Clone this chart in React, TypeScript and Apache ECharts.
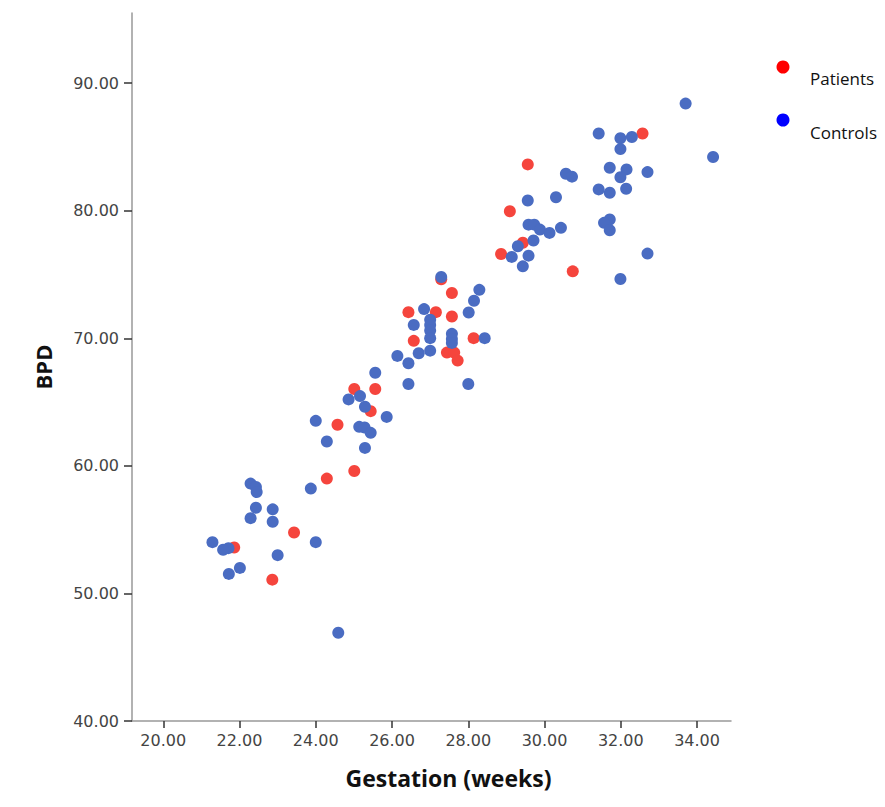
import React, { useEffect, useRef } from "react";
import * as echarts from "echarts";

const xTicks = [20, 22, 24, 26, 28, 30, 32, 34];
const yTicks = [40, 50, 60, 70, 80, 90];

const patientsGestation = [
  21.86, 22.86, 23.43, 24.29, 25.01, 24.57, 25.44, 25.01, 25.56, 26.43, 27.15, 27.57, 27.57,
  27.29, 26.57, 28.14, 27.44, 27.63, 27.72, 28.86, 29.43, 29.09, 29.56, 30.74, 32.57,
];
const patientsBPD = [
  53.6, 51.08, 54.78, 59.0, 59.6, 63.22, 64.29, 66.02, 66.02, 72.05, 72.05, 71.71, 73.55,
  74.63, 69.8, 70.01, 68.88, 68.88, 68.25, 76.61, 77.49, 79.96, 83.63, 75.25, 86.05,
];

const controlsGestation = [
  22.43, 22.87, 22.29, 22.87, 24.0, 21.29, 21.71, 21.57, 23.0, 22.01, 21.72, 25.56, 26.43,
  24.86, 25.16, 25.29, 24.0, 25.86, 25.14, 25.28, 25.44, 24.29, 25.29, 23.87, 22.29, 22.43,
  22.45, 24.59, 27.29, 28.29, 28.15, 26.84, 28.01, 26.57, 27.0, 27.0, 27.0, 27.0, 27.57,
  27.57, 27.57, 28.43, 26.14, 26.7, 27.0, 26.43, 28.0, 30.56, 30.72, 29.56, 30.3, 29.58,
  29.73, 29.88, 30.13, 30.43, 29.71, 29.3, 29.14, 29.58, 29.43, 33.7, 31.42, 31.99, 32.29,
  31.99, 34.42, 31.71, 32.15, 31.99, 32.7, 31.42, 31.71, 32.14, 31.71, 31.56, 31.71, 32.7,
  31.99,
];
const controlsBPD = [
  56.72, 56.59, 55.9, 55.62, 54.02, 54.02, 53.55, 53.42, 53.0, 52.0, 51.53, 67.3, 66.42,
  65.21, 65.47, 64.63, 63.53, 63.84, 63.06, 63.01, 62.59, 61.91, 61.41, 58.22, 58.61, 58.34,
  57.95, 46.92, 74.8, 73.8, 72.94, 72.29, 72.02, 71.05, 71.45, 71.05, 70.61, 70.01, 70.35,
  69.95, 69.64, 70.01, 68.62, 68.83, 69.03, 68.04, 66.42, 82.9, 82.67, 80.8, 81.06, 78.91,
  78.91, 78.52, 78.26, 78.66, 77.67, 77.21, 76.38, 76.48, 75.64, 88.4, 86.05, 85.68, 85.78,
  84.83, 84.21, 83.37, 83.24, 82.63, 83.03, 81.67, 81.41, 81.72, 79.31, 79.05, 78.47, 76.64,
  74.65,
];

const seriesNames = ["Patients", "Controls"];
const pointColors = ["#F5453D", "#4A6CC2"];
const legendColors = ["#FF0000", "#0000FF"];

const pairs = (xs: number[], ys: number[]) => xs.map((x, i) => [x, ys[i]]);

export default function App() {
  const ref = useRef<HTMLDivElement>(null);

  useEffect(() => {
    if (!ref.current) return;
    const chart = echarts.init(ref.current, undefined, { renderer: "svg" });
    const labelStyle = {
      color: "#444",
      fontFamily: "DejaVu Sans",
      fontSize: 16,
    };
    chart.setOption({
      animation: false,
      backgroundColor: "#fff",
      grid: { left: 132, right: 154, top: 13, bottom: 86, containLabel: false },
      xAxis: {
        type: "value",
        min: 19.18,
        max: 34.89,
        name: "Gestation (weeks)",
        nameLocation: "middle",
        nameGap: 45,
        nameTextStyle: {
          fontFamily: "Open Sans",
          fontWeight: "bold",
          fontSize: 23,
          color: "#111",
          padding: [0, 0, 0, 34],
        },
        axisLine: { show: true, lineStyle: { color: "#999", width: 1.5 } },
        axisTick: {
          show: true,
          inside: false,
          length: 7,
          customValues: xTicks,
          lineStyle: { color: "#333", width: 1.5 },
        },
        axisLabel: {
          ...labelStyle,
          margin: 11,
          customValues: xTicks,
          formatter: (v: number) => v.toFixed(2),
        },
        splitLine: { show: false },
      },
      yAxis: {
        type: "value",
        min: 40,
        max: 95.5,
        name: "BPD",
        nameLocation: "middle",
        nameGap: 78,
        nameTextStyle: {
          fontFamily: "Open Sans",
          fontWeight: "bold",
          fontSize: 22,
          color: "#111",
        },
        axisLine: { show: true, lineStyle: { color: "#999", width: 1.5 } },
        axisTick: {
          show: true,
          inside: false,
          length: 8,
          customValues: yTicks,
          lineStyle: { color: "#333", width: 1.5 },
        },
        axisLabel: {
          ...labelStyle,
          margin: 13,
          customValues: yTicks,
          formatter: (v: number) => v.toFixed(2),
        },
        splitLine: { show: false },
      },
      series: [
        {
          name: seriesNames[0],
          type: "scatter",
          symbol: "circle",
          symbolSize: 12,
          itemStyle: { color: pointColors[0], opacity: 1 },
          data: pairs(patientsGestation, patientsBPD),
          z: 2,
        },
        {
          name: seriesNames[1],
          type: "scatter",
          symbol: "circle",
          symbolSize: 12,
          itemStyle: { color: pointColors[1], opacity: 1 },
          data: pairs(controlsGestation, controlsBPD),
          z: 3,
        },
      ],
      graphic: [
        {
          type: "circle",
          shape: { cx: 783, cy: 67, r: 6.5 },
          style: { fill: legendColors[0] },
        },
        {
          type: "text",
          x: 810,
          y: 78,
          style: {
            text: seriesNames[0],
            fill: "#111",
            font: "17px 'Open Sans'",
            verticalAlign: "middle",
          },
        },
        {
          type: "circle",
          shape: { cx: 783, cy: 120, r: 6.5 },
          style: { fill: legendColors[1] },
        },
        {
          type: "text",
          x: 810,
          y: 132,
          style: {
            text: seriesNames[1],
            fill: "#111",
            font: "17px 'Open Sans'",
            verticalAlign: "middle",
          },
        },
      ],
    });
    return () => chart.dispose();
  }, []);

  return (
    <div
      ref={ref}
      style={{ position: "fixed", left: 0, top: 0, width: 885, height: 807, background: "#fff" }}
    />
  );
}
